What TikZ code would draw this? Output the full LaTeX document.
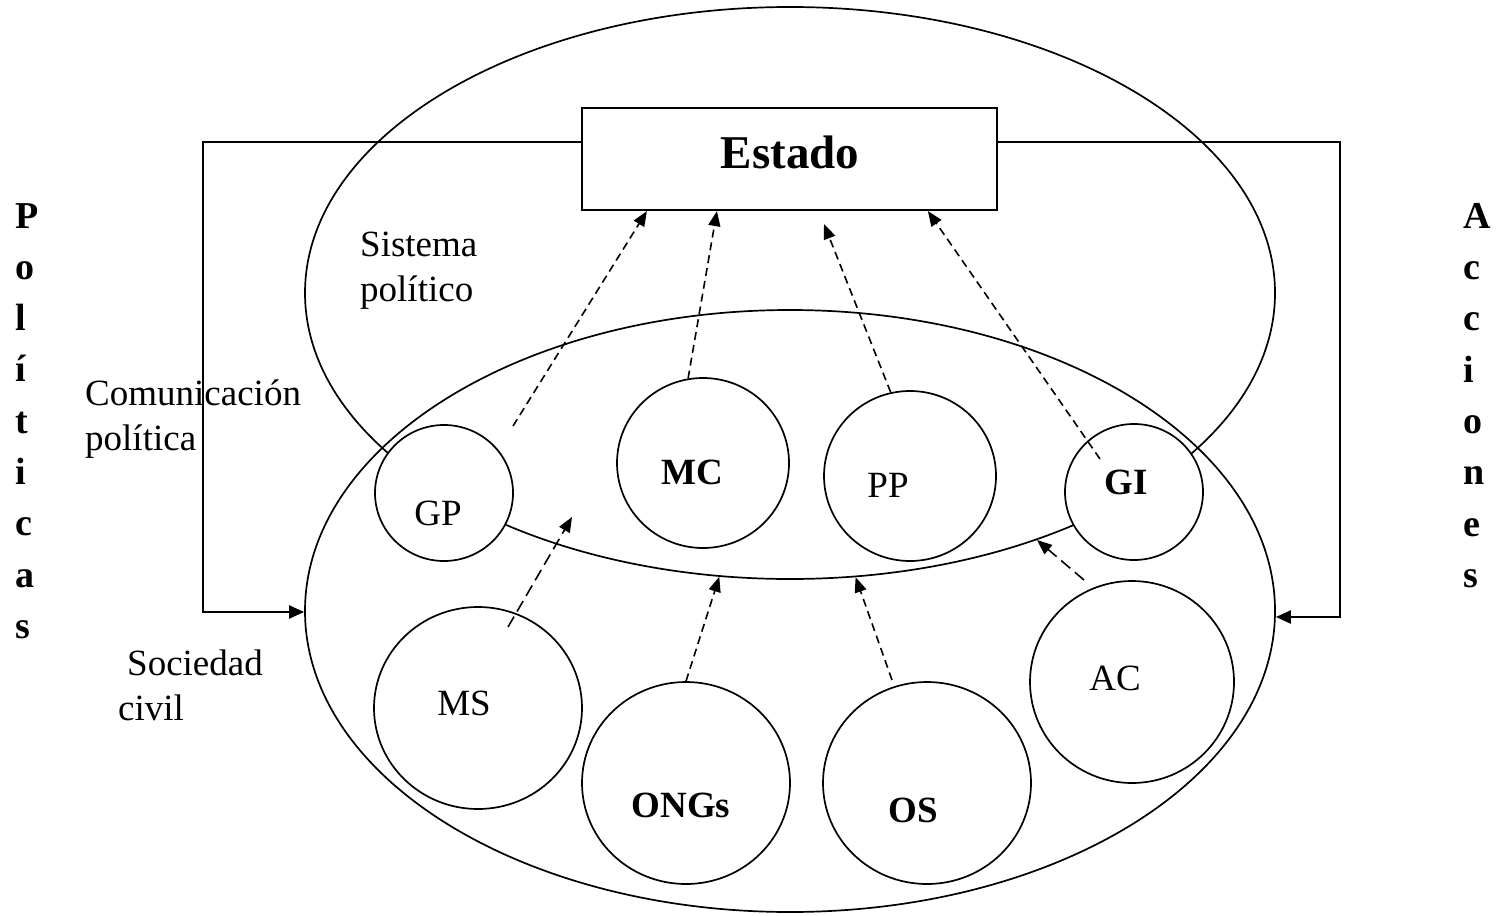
\documentclass[tikz,border=0pt]{standalone}
\usepackage{fontspec}
\setmainfont{Liberation Serif}
\usetikzlibrary{shapes.geometric,arrows.meta,calc}
\begin{document}
\begin{tikzpicture}[x=1pt,y=-1pt,
  bigell/.style={ellipse, draw, line width=1.7pt, inner sep=0pt},
  actor/.style={ellipse, draw, fill=white, line width=1.7pt, inner sep=0pt},
  lbl/.style={font=\fontsize{37}{45}\selectfont, inner sep=0pt},
  blbl/.style={font=\fontsize{37}{45}\selectfont\bfseries, inner sep=0pt},
  vert/.style={font=\fontsize{38}{51.3}\selectfont\bfseries, inner sep=0pt, align=left, anchor=north west},
  conn/.style={line width=2.2pt, -{Triangle[length=15pt,width=13pt]}},
  dsh/.style={line width=1.6pt, dash pattern=on 8pt off 5pt, -{Triangle[length=15pt,width=12pt]}},
  dshl/.style={line width=1.6pt, dash pattern=on 12pt off 6pt, -{Triangle[length=15pt,width=12pt]}},
]
\fill[white] (0,0) rectangle (1506,915);
\useasboundingbox (0,0) rectangle (1506,915);

% large ellipses
\node[bigell, minimum width=970pt, minimum height=572pt] (sp) at (790,293) {};
\node[bigell, minimum width=970pt, minimum height=602pt] (sc) at (790,611) {};

% Estado box
\node[draw, line width=2.2pt, minimum width=415pt, minimum height=102pt, inner sep=0pt, fill=white] (estado) at (789.5,159) {};
\node[inner sep=0pt, font=\fontsize{47}{56}\selectfont\bfseries] (estadot) at (790,152) {Estado};

% feedback connectors
\coordinate (lc) at (203,612);
\coordinate (rc) at (1340,617);
\draw[conn] ([yshift=17pt]estado.west) -| (lc) -- (sc.west |- lc);
\draw[conn] ([yshift=17pt]estado.east) -| (rc) -- (sc.east |- rc);

% actors
\node[actor, minimum width=138pt, minimum height=136pt] (gp) at (444,493) {};
\node[actor, minimum width=172pt, minimum height=170pt] (mc) at (703,463) {};
\node[actor, minimum width=172pt, minimum height=170pt] (pp) at (910,476) {};
\node[actor, minimum width=138pt, minimum height=136pt] (gi) at (1134,492) {};
\node[actor, minimum width=208pt, minimum height=202pt] (ms) at (478,708) {};
\node[actor, minimum width=208pt, minimum height=202pt] (ongs) at (686,783) {};
\node[actor, minimum width=208pt, minimum height=202pt] (os) at (927,783) {};
\node[actor, minimum width=204pt, minimum height=202pt] (ac) at (1132,682) {};

\node[lbl] (gpt) at (438,513) {GP};
\node[blbl] (mct) at (692,472) {MC};
\node[lbl] (ppt) at (888,485) {PP};
\node[blbl] (git) at (1126,482) {GI};
\node[lbl] (mst) at (464,703) {MS};
\node[blbl] (ongst) at (681,805) {ONGs};
\node[blbl] (ost) at (913,810) {OS};
\node[lbl] (act) at (1115,678) {AC};

% free labels
\node[lbl, align=left, anchor=north west] (sist) at (360,232) {Sistema\\político};
\node[lbl, align=left, anchor=north west] (comt) at (85,380) {Comunicación\\política};
\node[lbl, align=left, anchor=north west] (soct) at (118,650) {\hspace*{9pt}Sociedad\\civil};
\node[vert] (polt) at (15,203) {P\\o\\l\\í\\t\\i\\c\\a\\s};
\node[vert] (acct) at (1463,203) {A\\c\\c\\i\\o\\n\\e\\s};

% dashed influence arrows
\coordinate (gpa) at (513,426);
\coordinate (ppa) at (824,224);
\coordinate (gia) at (1100,459);
\coordinate (msa) at (508,627);
\coordinate (msb) at (572,517);
\coordinate (osa) at (892,680);
\coordinate (aca) at (1084,580);
\draw[dsh] (gpa) -- ([xshift=66pt]estado.south west);
\draw[dsh] (mc.100) -- ([xshift=136pt]estado.south west);
\draw[dsh] (pp.103) -- (ppa);
\draw[dsh] (gia) -- ([xshift=347pt]estado.south west);
\draw[dshl] (msa) -- (msb);
\draw[dsh] (ongs.north) -- (sp.256.5);
\draw[dsh] (osa) -- (sp.283);
\draw[dshl] (aca) -- (sp.315.5);
\end{tikzpicture}
\end{document}
